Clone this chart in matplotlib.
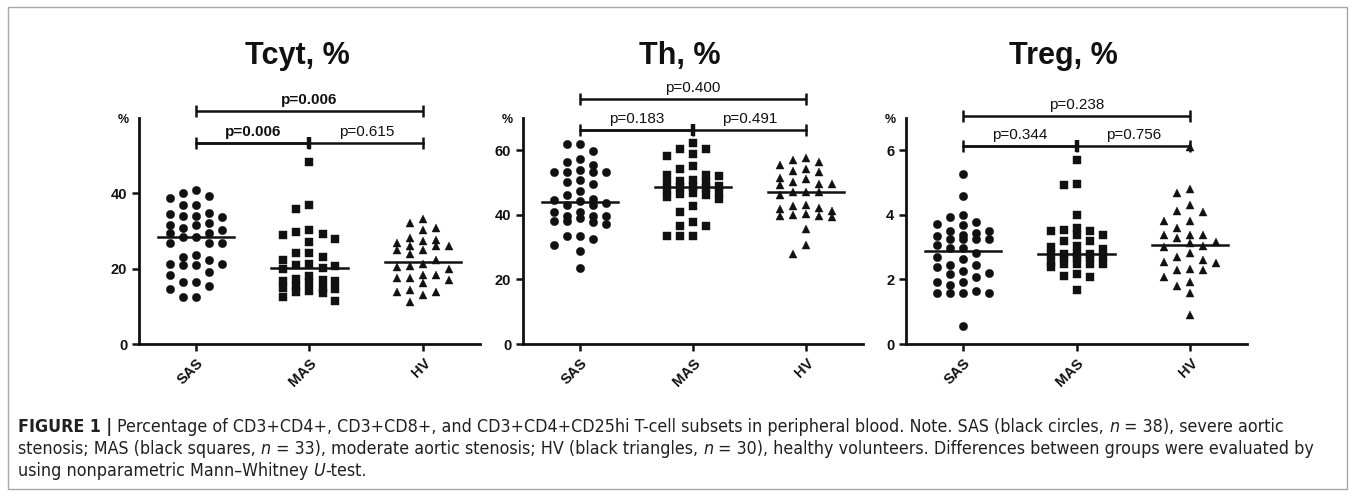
import numpy as np
import matplotlib
matplotlib.use("Agg")
import matplotlib.pyplot as plt
from matplotlib import font_manager
from matplotlib.patches import Rectangle

groups = ["SAS", "MAS", "HV"]

# Tcyt, %
tcyt_sas = [40.2, 40.9, 38.7, 39.2, 37.0, 37.0, 34.4, 34.0, 33.7, 34.0, 34.7, 32.1, 31.5,
            30.7, 31.7, 30.2, 29.6, 29.6, 28.4, 28.4, 26.9, 26.9, 26.9, 23.6, 23.2, 22.4,
            21.3, 20.9, 20.9, 21.3, 19.0, 18.4, 16.5, 16.4, 14.5, 15.3, 12.5, 12.5]
tcyt_mas = [48.2, 36.9, 35.9, 30.2, 29.8, 29.1, 28.9, 27.8, 27.2, 24.2, 24.2, 23.1, 22.3,
            21.3, 20.9, 20.8, 20.3, 19.8, 18.0, 17.2, 16.9, 16.8, 16.6, 16.2, 15.5, 15.0,
            14.8, 14.5, 14.0, 13.8, 13.5, 12.5, 11.5]
tcyt_hv = [33.3, 32.1, 30.9, 30.2, 27.3, 27.7, 28.1, 26.9, 26.0, 25.0, 25.9, 25.0, 26.0,
           24.0, 22.4, 20.6, 20.0, 20.5, 21.2, 17.5, 17.1, 18.3, 17.6, 18.3, 16.2, 14.3,
           13.8, 13.1, 13.8, 11.2]

# Th, %
th_sas = [61.9, 61.9, 59.7, 57.4, 56.4, 55.3, 53.8, 53.3, 53.3, 53.3, 53.3, 50.7, 50.2,
          49.6, 47.5, 46.0, 45.0, 44.6, 44.4, 43.6, 43.1, 42.9, 41.0, 40.8, 39.8, 39.7,
          39.6, 38.9, 38.2, 38.2, 37.7, 37.2, 33.5, 33.5, 32.5, 30.6, 28.8, 23.4]
th_mas = [62.3, 60.5, 60.5, 58.7, 58.1, 55.0, 54.3, 52.5, 52.2, 52.0, 50.8, 50.5, 50.2,
          50.0, 49.0, 48.6, 48.5, 48.3, 47.8, 47.2, 46.8, 46.5, 46.0, 45.5, 45.0, 42.7,
          40.8, 37.9, 36.4, 36.4, 33.5, 33.5, 33.3]
th_hv = [57.6, 56.4, 55.5, 56.9, 54.3, 53.3, 53.5, 50.2, 51.0, 51.4, 49.6, 49.6, 49.1,
         47.2, 47.2, 47.2, 46.0, 41.8, 42.7, 42.2, 42.9, 41.3, 40.3, 39.2, 39.6, 39.6,
         40.1, 35.6, 30.6, 27.8]

# Treg, %
treg_sas = [5.27, 4.57, 4.00, 3.79, 3.69, 3.72, 3.93, 3.51, 3.44, 3.51, 3.33, 3.25, 3.25,
            3.25, 3.25, 3.37, 3.06, 2.96, 2.96, 2.81, 2.71, 2.63, 2.26, 2.44, 2.16, 2.37,
            2.44, 2.21, 1.82, 1.92, 1.93, 2.06, 1.57, 1.57, 1.57, 1.57, 1.64, 0.57]
treg_mas = [5.69, 4.93, 4.96, 4.01, 3.50, 3.20, 3.50, 3.20, 3.58, 3.37, 3.54, 3.37, 3.04,
            2.94, 2.99, 2.80, 2.80, 2.68, 2.47, 2.68, 2.47, 2.68, 2.78, 2.68, 2.78, 2.53,
            2.47, 2.47, 2.37, 2.16, 2.11, 2.06, 1.67]
treg_hv = [6.10, 4.81, 4.68, 4.31, 4.08, 4.12, 3.82, 3.82, 3.60, 3.29, 3.37, 3.37, 3.37,
           3.12, 3.01, 3.04, 3.15, 2.81, 2.71, 2.55, 2.52, 2.60, 2.29, 2.29, 2.31, 2.06,
           1.92, 1.79, 1.59, 0.89]

# p-values: SAS vs HV (top), SAS vs MAS, MAS vs HV
tcyt_p = ["p=0.006", "p=0.006", "p=0.615"]
th_p = ["p=0.400", "p=0.183", "p=0.491"]
treg_p = ["p=0.238", "p=0.344", "p=0.756"]
tcyt_sig = [True, True, False]
th_sig = [False, False, False]
treg_sig = [False, False, False]

caption = [
    [("FIGURE 1 |", "bold", False),
     ("Percentage of CD3+CD4+, CD3+CD8+, and CD3+CD4+CD25hi T-cell subsets in peripheral blood. "
      "Note. SAS (black circles,", "normal", True),
     ("n", "italic", True), ("= 38), severe aortic", "normal", True)],
    [("stenosis; MAS (black squares,", "normal", False), ("n", "italic", True),
     ("= 33), moderate aortic stenosis; HV (black triangles,", "normal", True),
     ("n", "italic", True),
     ("= 30), healthy volunteers. Differences between groups were evaluated by", "normal", True)],
    [("using nonparametric Mann\u2013Whitney", "normal", False), ("U", "italic", True),
     ("-test.", "normal", False)],
]

plt.rcParams["font.family"] = ["Liberation Sans", "DejaVu Sans"]
K = "#111111"
W, H = 1355, 496
fig = plt.figure(figsize=(W / 100, H / 100), dpi=100)

fig.add_artist(Rectangle((8 / W, 7 / H), 1339 / W, 482 / H, transform=fig.transFigure,
                         fill=False, edgecolor="#a8a8a8", lw=1))

panels = [
    ("Tcyt, %", [tcyt_sas, tcyt_mas, tcyt_hv], 60, [0, 20, 40], tcyt_p, tcyt_sig, 139, 480, 297, (61.9, 53.4)),
    ("Th, %", [th_sas, th_mas, th_hv], 70, [0, 20, 40, 60], th_p, th_sig, 523, 863, 680, (75.9, 66.2)),
    ("Treg, %", [treg_sas, treg_mas, treg_hv], 7, [0, 2, 4, 6], treg_p, treg_sig, 906, 1247, 1063, (7.07, 6.14)),
]
markers = [("o", 6.0), ("s", 5.6), ("^", 6.2)]


def swarm(ax, xc, vals, marker, ms):
    vals = np.sort(np.asarray(vals, float))[::-1]
    o = ax.transData.transform((0, 0))
    sx = ax.transData.transform((1, 0))[0] - o[0]
    sy = ax.transData.transform((0, 1))[1] - o[1]
    step, gap = 13.0, 10.0
    placed, xs = [], []
    for v in vals:
        yp = v * sy
        best, best_d = 0, -1
        for k in [0, -1, 1, -2, 2]:
            xp = k * step
            same = [abs(yp - b) for a, b in placed if abs(xp - a) < step * 0.5]
            d = min(same) if same else 1e9
            if d >= gap:
                best = xp
                break
            if d > best_d:
                best, best_d = xp, d
        placed.append((best, yp))
        xs.append(xc + best / sx)
    ax.plot(xs, vals, ls="none", marker=marker, ms=ms, color=K, mec=K, mew=0.3, clip_on=False, zorder=3)
    med = np.median(vals)
    ax.plot([xc - 0.335, xc + 0.335], [med, med], color=K, lw=1.8, zorder=4)


def bracket(ax, x0, x1, y, caps, label, bold, mid=False):
    ax.plot([x0, x1], [y, y], color=K, lw=1.8, clip_on=False, solid_capstyle="butt")
    ax.plot(caps, [y] * len(caps), ls="none", marker="|", ms=8, mew=1.8, color=K, clip_on=False)
    if mid:
        ax.plot([1], [y], ls="none", marker="|", ms=8, mew=3.2, color=K, clip_on=False)
    ax.annotate(label, ((x0 + x1) / 2, y), xytext=(0, 5), textcoords="offset points",
                ha="center", va="baseline", fontsize=11, color=K,
                fontweight="bold" if bold else "normal", annotation_clip=False)


for title, data, ymax, ticks, pv, sig, left, right, tx, (ytop, ylow) in panels:
    top, bottom = 118, 344
    ax = fig.add_axes([left / W, 1 - bottom / H, (right - left) / W, (bottom - top) / H])
    ax.set_xlim(-0.5, 2.5)
    ax.set_ylim(0, ymax)
    for s in ["top", "right"]:
        ax.spines[s].set_visible(False)
    for s in ["left", "bottom"]:
        ax.spines[s].set_linewidth(2)
        ax.spines[s].set_color(K)
    ax.set_yticks(ticks)
    ax.set_xticks(range(3))
    ax.set_xticklabels(groups, rotation=45, ha="right", va="top", rotation_mode="anchor")
    ax.tick_params(width=1.8, length=5, color=K, labelsize=10.5, labelcolor=K)
    for lab in ax.get_xticklabels() + ax.get_yticklabels():
        lab.set_fontweight("bold")
    for i, vals in enumerate(data):
        swarm(ax, i, vals, *markers[i])
    bracket(ax, 0, 2, ytop, [0, 2], pv[0], sig[0])
    ax.plot([0, 2], [ylow, ylow], color=K, lw=1.8, clip_on=False)
    bracket(ax, 0, 1, ylow, [0, 1, 2], pv[1], sig[1], mid=True)
    ax.annotate(pv[2], (1.5, ylow), xytext=(0, 5), textcoords="offset points", ha="center",
                va="baseline", fontsize=11, color=K,
                fontweight="bold" if sig[2] else "normal", annotation_clip=False)
    fig.text((left - 16) / W, 1 - 120 / H, "%", ha="center", va="center", fontsize=9,
             fontweight="bold", color=K)
    fig.text(tx / W, 1 - 56 / H, title, ha="center", va="center", fontsize=22,
             fontweight="bold", color=K)

# caption
names = {f.name for f in font_manager.fontManager.ttflist}
if "Liberation Sans Narrow" in names:
    cap_font = dict(family="Liberation Sans Narrow")
else:
    cap_font = dict(family="DejaVu Sans", stretch="condensed")
r = fig.canvas.get_renderer()


def measure(s, **kw):
    t = fig.text(0, 0, s, **kw)
    w = t.get_window_extent(r).width
    t.remove()
    return w


cap_size = 12.8
sp = measure("a a", fontsize=cap_size, **cap_font) - measure("aa", fontsize=cap_size, **cap_font)
for line, yb in zip(caption, [432, 454, 476]):
    x = 18
    for s, style, space in line:
        if space:
            x += sp
        kw = dict(fontsize=cap_size, color="#231f20", **cap_font)
        if style == "bold":
            kw["fontweight"] = "bold"
        if style == "italic":
            kw["fontstyle"] = "italic"
        t = fig.text(x / W, 1 - yb / H, s, ha="left", va="baseline", **kw)
        x += t.get_window_extent(r).width

fig.savefig("out.png", dpi=100)
